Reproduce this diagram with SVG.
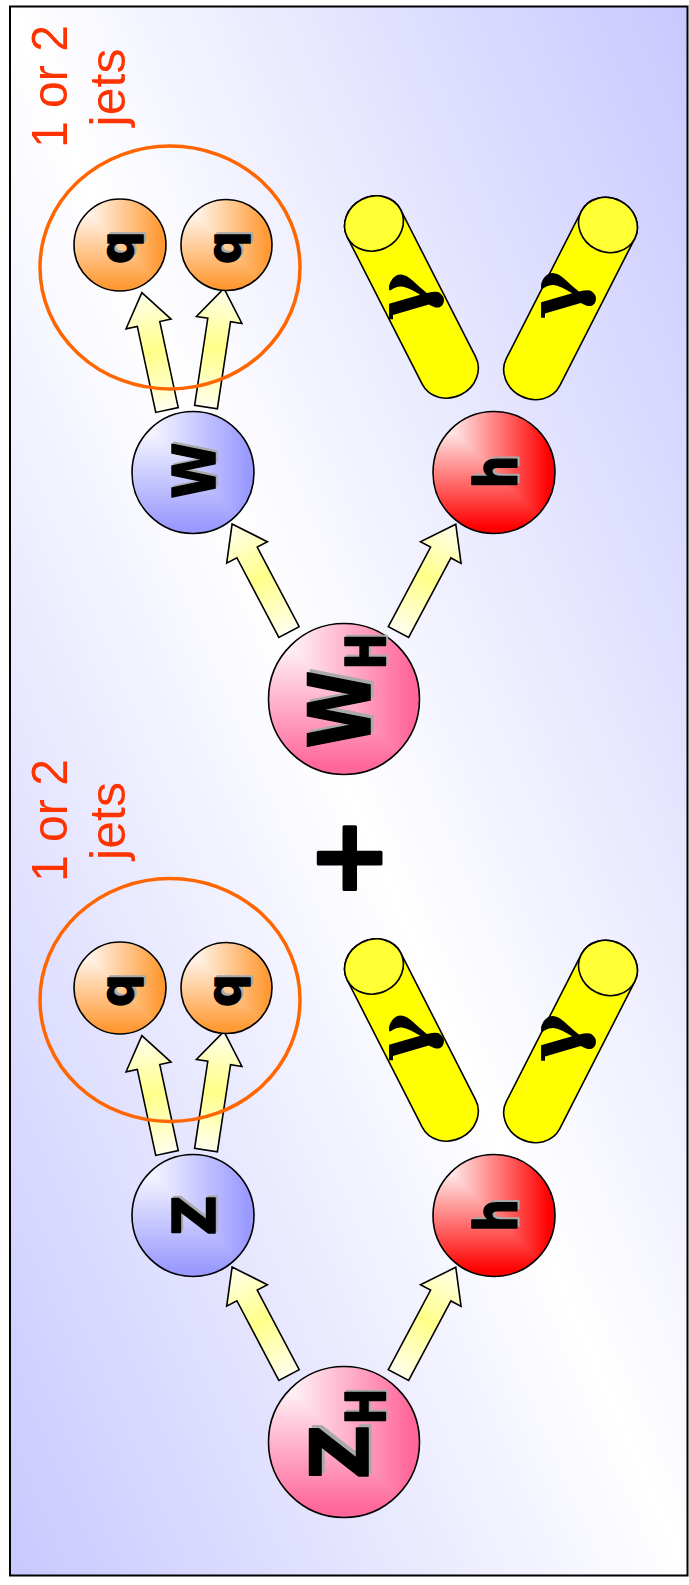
<svg xmlns="http://www.w3.org/2000/svg" width="689" height="1585" viewBox="0 0 689 1585">
  <defs>
    <linearGradient id="bg" x1="1" y1="0" x2="0" y2="1">
      <stop offset="0" stop-color="#c8c8ff"/>
      <stop offset="0.5" stop-color="#ffffff"/>
      <stop offset="1" stop-color="#c8c8ff"/>
    </linearGradient>
    <!-- corner-path shading: horizontal ramp on the upper-right half, vertical ramp on the lower-left half -->
    <clipPath id="lowerHalf" clipPathUnits="objectBoundingBox">
      <path d="M0,0 L0,1 L1,1 Z"/>
    </clipPath>
    <linearGradient id="blueH" x1="0" y1="0" x2="1" y2="0"><stop offset="0.08" stop-color="#fff"/><stop offset="0.95" stop-color="#9999ff"/></linearGradient>
    <linearGradient id="blueV" x1="0" y1="0" x2="0" y2="1"><stop offset="0.08" stop-color="#fff"/><stop offset="0.95" stop-color="#9999ff"/></linearGradient>
    <linearGradient id="redH" x1="0" y1="0" x2="1" y2="0"><stop offset="0.08" stop-color="#fff"/><stop offset="0.95" stop-color="#ff0000"/></linearGradient>
    <linearGradient id="redV" x1="0" y1="0" x2="0" y2="1"><stop offset="0.08" stop-color="#fff"/><stop offset="0.95" stop-color="#ff0000"/></linearGradient>
    <linearGradient id="orH" x1="0" y1="0" x2="1" y2="0"><stop offset="0.08" stop-color="#fff"/><stop offset="0.95" stop-color="#ff9933"/></linearGradient>
    <linearGradient id="orV" x1="0" y1="0" x2="0" y2="1"><stop offset="0.08" stop-color="#fff"/><stop offset="0.95" stop-color="#ff9933"/></linearGradient>
    <linearGradient id="pkH" x1="0" y1="0" x2="1" y2="0"><stop offset="0.08" stop-color="#fff"/><stop offset="0.95" stop-color="#ff6699"/></linearGradient>
    <linearGradient id="pkV" x1="0" y1="0" x2="0" y2="1"><stop offset="0.08" stop-color="#fff"/><stop offset="0.95" stop-color="#ff6699"/></linearGradient>
    <linearGradient id="arrowFill" x1="0" y1="0" x2="1" y2="0">
      <stop offset="0" stop-color="#ffffee"/>
      <stop offset="0.5" stop-color="#ffff88"/>
      <stop offset="1" stop-color="#ffffee"/>
    </linearGradient>
    <path id="arrow122" d="M0,-11.5 H90 V-23 L122,0 L90,23 V11.5 H0 Z"/>
    <path id="arrow120" d="M0,-11.5 H88 V-23 L120,0 L88,23 V11.5 H0 Z"/>
    <!-- tube: axis along +y from the cap centre -->
    <g id="tube">
      <path class="tubeBody" d="M-30,0 L-30,165 A30,27 0 0 0 30,165 L30,0 A30,27 0 0 0 -30,0 Z"/>
      <ellipse class="tubeCap" cx="0" cy="0" rx="30" ry="27"/>
    </g>
  </defs>
  <style>
    .frame { fill: url(#bg); stroke: #000; stroke-width: 2; }
    .ring { fill: none; stroke: #000; stroke-width: 1.6; }
    .jetRing { fill: none; stroke: #ff6600; stroke-width: 3.5; }
    .arrow { fill: url(#arrowFill); stroke: #000; stroke-width: 1.6; stroke-linejoin: miter; }
    .tubeBody { fill: #ffff00; stroke: #000; stroke-width: 1.6; }
    .tubeCap { fill: #ffff33; stroke: #000; stroke-width: 1.6; }
    .lbl { font-family: "DejaVu Sans", sans-serif; font-weight: bold; fill: #000; stroke: #000; stroke-width: 1.6; stroke-linejoin: round; text-anchor: middle; }
    .shd { font-family: "DejaVu Sans", sans-serif; font-weight: bold; fill: #aaaaaa; stroke: #aaaaaa; stroke-width: 1.6; stroke-linejoin: round; text-anchor: middle; }
    .gam { font-family: "DejaVu Serif", serif; font-weight: bold; font-size: 74px; fill: #000; text-anchor: middle; }
    .jets { font-family: "Liberation Sans", sans-serif; font-size: 50px; fill: #ff3300; text-anchor: middle; }
    .plus { font-family: "DejaVu Sans", sans-serif; font-weight: bold; font-size: 100px; fill: #000; stroke: #000; stroke-width: 3; stroke-linejoin: round; text-anchor: middle; }
  </style>

  <rect class="frame" x="10" y="6.5" width="677.5" height="1569"/>

  <!-- connectors -->
  <g id="connectors">
    <use href="#arrow122" class="arrow" transform="translate(289,632) rotate(-117.8)"/>
    <use href="#arrow122" class="arrow" transform="translate(398.5,632) rotate(-62)"/>
    <use href="#arrow120" class="arrow" transform="translate(167,410) rotate(-102.1)"/>
    <use href="#arrow120" class="arrow" transform="translate(206,407) rotate(-81.4)"/>
    <use href="#arrow122" class="arrow" transform="translate(289,1375) rotate(-117.8)"/>
    <use href="#arrow122" class="arrow" transform="translate(398.5,1375) rotate(-62)"/>
    <use href="#arrow120" class="arrow" transform="translate(167,1153) rotate(-102.1)"/>
    <use href="#arrow120" class="arrow" transform="translate(206,1150) rotate(-81.4)"/>
  </g>

  <!-- ===== W_H channel ===== -->
  <g id="jets-label-wh">
    <text class="jets" transform="translate(67,86.5) rotate(-90)" textLength="123" lengthAdjust="spacingAndGlyphs">1 or 2</text>
    <text class="jets" transform="translate(125,87.5) rotate(-90)">jets</text>
  </g>
  <g id="jet-cone-wh"><ellipse class="jetRing" cx="170" cy="267.5" rx="130" ry="121.5"/></g>

  <g id="q1-wh">
    <circle cx="120" cy="245" r="46" fill="url(#orH)"/>
    <circle cx="120" cy="245" r="46" fill="url(#orV)" clip-path="url(#lowerHalf)"/>
    <circle class="ring" cx="120" cy="245" r="46"/>
    <text class="shd" font-size="46" transform="translate(135,245.5) rotate(-90)">q</text>
    <text class="lbl" font-size="46" transform="translate(133,247.5) rotate(-90)">q</text>
  </g>
  <g id="q2-wh">
    <circle cx="226.5" cy="245" r="45.5" fill="url(#orH)"/>
    <circle cx="226.5" cy="245" r="45.5" fill="url(#orV)" clip-path="url(#lowerHalf)"/>
    <circle class="ring" cx="226.5" cy="245" r="45.5"/>
    <text class="shd" font-size="46" transform="translate(241.5,245.5) rotate(-90)">q</text>
    <text class="lbl" font-size="46" transform="translate(239.5,247.5) rotate(-90)">q</text>
  </g>

  <g id="photon1-wh">
    <use href="#tube" transform="translate(374,223.5) rotate(-27)"/>
    <text class="gam" transform="translate(428,296.5) rotate(-90)">γ</text>
  </g>
  <g id="photon2-wh">
    <use href="#tube" transform="translate(608,225) rotate(27)"/>
    <text class="gam" transform="translate(580,295) rotate(-90)">γ</text>
  </g>

  <g id="w-boson">
    <circle cx="193" cy="472.5" r="61" fill="url(#blueH)"/>
    <circle cx="193" cy="472.5" r="61" fill="url(#blueV)" clip-path="url(#lowerHalf)"/>
    <circle class="ring" cx="193" cy="472.5" r="61"/>
    <text class="shd" font-size="58" transform="translate(217,468.5) rotate(-90)" textLength="56" lengthAdjust="spacingAndGlyphs">W</text>
    <text class="lbl" font-size="58" transform="translate(215,470.5) rotate(-90)" textLength="56" lengthAdjust="spacingAndGlyphs">W</text>
  </g>
  <g id="higgs-wh">
    <circle cx="494" cy="472.5" r="61" fill="url(#redH)"/>
    <circle cx="494" cy="472.5" r="61" fill="url(#redV)" clip-path="url(#lowerHalf)"/>
    <circle class="ring" cx="494" cy="472.5" r="61"/>
    <text class="shd" font-size="58" transform="translate(519,470) rotate(-90)" textLength="33" lengthAdjust="spacingAndGlyphs">h</text>
    <text class="lbl" font-size="58" transform="translate(517,472) rotate(-90)" textLength="33" lengthAdjust="spacingAndGlyphs">h</text>
  </g>
  <g id="wh-parent">
    <circle cx="344" cy="699" r="75.5" fill="url(#pkH)"/>
    <circle cx="344" cy="699" r="75.5" fill="url(#pkV)" clip-path="url(#lowerHalf)"/>
    <circle class="ring" cx="344" cy="699" r="75.5"/>
    <text class="shd" font-size="85" transform="translate(373,706.5) rotate(-90)" textLength="78" lengthAdjust="spacingAndGlyphs">W</text>
    <text class="lbl" font-size="85" transform="translate(370,709.5) rotate(-90)" textLength="78" lengthAdjust="spacingAndGlyphs">W</text>
    <text class="shd" font-size="55" transform="translate(387,649.5) rotate(-90)" textLength="36" lengthAdjust="spacingAndGlyphs">H</text>
    <text class="lbl" font-size="55" transform="translate(385,651.5) rotate(-90)" textLength="36" lengthAdjust="spacingAndGlyphs">H</text>
  </g>

  <g id="plus"><text class="plus" transform="translate(381,858) rotate(-90)">+</text></g>

  <!-- ===== Z_H channel ===== -->
  <g id="jets-label-zh">
    <text class="jets" transform="translate(67,820.5) rotate(-90)" textLength="123" lengthAdjust="spacingAndGlyphs">1 or 2</text>
    <text class="jets" transform="translate(125,821) rotate(-90)">jets</text>
  </g>
  <g id="jet-cone-zh"><ellipse class="jetRing" cx="170" cy="1000" rx="130" ry="121.5"/></g>

  <g id="q1-zh">
    <circle cx="120" cy="988" r="46" fill="url(#orH)"/>
    <circle cx="120" cy="988" r="46" fill="url(#orV)" clip-path="url(#lowerHalf)"/>
    <circle class="ring" cx="120" cy="988" r="46"/>
    <text class="shd" font-size="46" transform="translate(135,988.5) rotate(-90)">q</text>
    <text class="lbl" font-size="46" transform="translate(133,990.5) rotate(-90)">q</text>
  </g>
  <g id="q2-zh">
    <circle cx="226.5" cy="988" r="45.5" fill="url(#orH)"/>
    <circle cx="226.5" cy="988" r="45.5" fill="url(#orV)" clip-path="url(#lowerHalf)"/>
    <circle class="ring" cx="226.5" cy="988" r="45.5"/>
    <text class="shd" font-size="46" transform="translate(241.5,988.5) rotate(-90)">q</text>
    <text class="lbl" font-size="46" transform="translate(239.5,990.5) rotate(-90)">q</text>
  </g>

  <g id="photon1-zh">
    <use href="#tube" transform="translate(374,966.5) rotate(-27)"/>
    <text class="gam" transform="translate(428,1037.5) rotate(-90)">γ</text>
  </g>
  <g id="photon2-zh">
    <use href="#tube" transform="translate(608,968) rotate(27)"/>
    <text class="gam" transform="translate(580,1038) rotate(-90)">γ</text>
  </g>

  <g id="z-boson">
    <circle cx="193" cy="1215.5" r="61" fill="url(#blueH)"/>
    <circle cx="193" cy="1215.5" r="61" fill="url(#blueV)" clip-path="url(#lowerHalf)"/>
    <circle class="ring" cx="193" cy="1215.5" r="61"/>
    <text class="shd" font-size="58" transform="translate(217,1213.5) rotate(-90)" textLength="40" lengthAdjust="spacingAndGlyphs">Z</text>
    <text class="lbl" font-size="58" transform="translate(215,1215.5) rotate(-90)" textLength="40" lengthAdjust="spacingAndGlyphs">Z</text>
  </g>
  <g id="higgs-zh">
    <circle cx="494" cy="1215.5" r="61" fill="url(#redH)"/>
    <circle cx="494" cy="1215.5" r="61" fill="url(#redV)" clip-path="url(#lowerHalf)"/>
    <circle class="ring" cx="494" cy="1215.5" r="61"/>
    <text class="shd" font-size="58" transform="translate(519,1213.5) rotate(-90)" textLength="33" lengthAdjust="spacingAndGlyphs">h</text>
    <text class="lbl" font-size="58" transform="translate(517,1215.5) rotate(-90)" textLength="33" lengthAdjust="spacingAndGlyphs">h</text>
  </g>
  <g id="zh-parent">
    <circle cx="344" cy="1442" r="75.5" fill="url(#pkH)"/>
    <circle cx="344" cy="1442" r="75.5" fill="url(#pkV)" clip-path="url(#lowerHalf)"/>
    <circle class="ring" cx="344" cy="1442" r="75.5"/>
    <text class="shd" font-size="81" transform="translate(371,1449) rotate(-90)" textLength="55" lengthAdjust="spacingAndGlyphs">Z</text>
    <text class="lbl" font-size="81" transform="translate(368,1452) rotate(-90)" textLength="55" lengthAdjust="spacingAndGlyphs">Z</text>
    <text class="shd" font-size="55" transform="translate(387,1404.5) rotate(-90)" textLength="36" lengthAdjust="spacingAndGlyphs">H</text>
    <text class="lbl" font-size="55" transform="translate(385,1406.5) rotate(-90)" textLength="36" lengthAdjust="spacingAndGlyphs">H</text>
  </g>
</svg>
